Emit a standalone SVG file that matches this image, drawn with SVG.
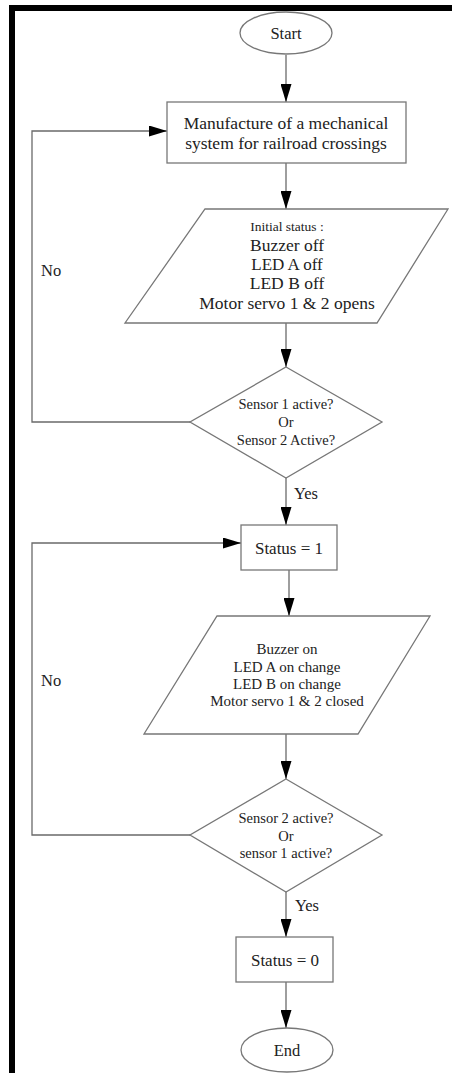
<svg xmlns="http://www.w3.org/2000/svg" width="452" height="1073" viewBox="0 0 452 1073">
<defs>
<marker id="arr" markerUnits="userSpaceOnUse" markerWidth="18" markerHeight="11" refX="18" refY="5.5" orient="auto">
<path d="M0,0 L18,5.5 L0,11 z" fill="#000"/>
</marker>
<style>
.shape{fill:#fff;stroke:#777;stroke-width:1.3}
.conn{fill:none;stroke:#6a6a6a;stroke-width:1.3;marker-end:url(#arr)}
.t{font-family:"Liberation Serif","Times New Roman",serif;fill:#222;text-anchor:middle}
.l{font-family:"Liberation Serif","Times New Roman",serif;fill:#222;font-size:16.5px}
</style>
</defs>
<rect x="0" y="0" width="452" height="1073" fill="#fff"/>
<g id="frame">
<rect x="9" y="5" width="443" height="6" fill="#000"/>
<rect x="9" y="5" width="6" height="1068" fill="#000"/>
</g>
<g id="connectors">
<path class="conn" d="M286,55 V102"/>
<path class="conn" d="M286,163 V209"/>
<path class="conn" d="M286,323 V367"/>
<path class="conn" d="M190,422 H32 V131 H167"/>
<path class="conn" d="M286,478 V525"/>
<path class="conn" d="M289,570 V616"/>
<path class="conn" d="M286,734 V779"/>
<path class="conn" d="M190,835 H32 V543 H241"/>
<path class="conn" d="M286,892 V937"/>
<path class="conn" d="M286,982 V1028"/>
<text class="l" x="41" y="276">No</text>
<text class="l" x="41" y="686">No</text>
<text class="l" x="294" y="499">Yes</text>
<text class="l" x="295" y="911">Yes</text>
</g>
<g id="start">
<ellipse class="shape" cx="286" cy="33" rx="46" ry="21"/>
<text class="t" x="286" y="39" font-size="16.5">Start</text>
</g>
<g id="manufacture">
<rect class="shape" x="167" y="102" width="239" height="61"/>
<text class="t" x="286" y="129" font-size="17.5">Manufacture of a mechanical</text>
<text class="t" x="286" y="149" font-size="17.5">system for railroad crossings</text>
</g>
<g id="initial">
<polygon class="shape" points="205,209 448,209 377,323 125,323"/>
<text class="t" x="287" y="231" font-size="13.5">Initial status :</text>
<text class="t" x="287" y="251" font-size="17.5">Buzzer off</text>
<text class="t" x="287" y="270" font-size="17">LED A off</text>
<text class="t" x="287" y="289" font-size="17.5">LED B off</text>
<text class="t" x="287" y="309" font-size="17.5">Motor servo 1 &amp; 2 opens</text>
</g>
<g id="decision1">
<polygon class="shape" points="286,367 382,422 286,478 190,422"/>
<text class="t" x="286" y="409" font-size="14.5">Sensor 1 active?</text>
<text class="t" x="286" y="427" font-size="14.5">Or</text>
<text class="t" x="286" y="445" font-size="14.5">Sensor 2 Active?</text>
</g>
<g id="status1">
<rect class="shape" x="241" y="525" width="96" height="45"/>
<text class="t" x="289" y="554" font-size="17">Status = 1</text>
</g>
<g id="output">
<polygon class="shape" points="217,616 430,616 358,734 144,734"/>
<text class="t" x="287" y="654" font-size="15">Buzzer on</text>
<text class="t" x="287" y="672" font-size="15">LED A on change</text>
<text class="t" x="287" y="689" font-size="15">LED B on change</text>
<text class="t" x="287" y="706" font-size="15">Motor servo 1 &amp; 2 closed</text>
</g>
<g id="decision2">
<polygon class="shape" points="286,779 382,835 286,892 190,835"/>
<text class="t" x="286" y="823" font-size="14.5">Sensor 2 active?</text>
<text class="t" x="286" y="841" font-size="14.5">Or</text>
<text class="t" x="286" y="858" font-size="14.5">sensor 1 active?</text>
</g>
<g id="status0">
<rect class="shape" x="236" y="937" width="97" height="45"/>
<text class="t" x="285" y="966" font-size="17">Status = 0</text>
</g>
<g id="end">
<ellipse class="shape" cx="287" cy="1050" rx="46" ry="22"/>
<text class="t" x="287" y="1056" font-size="16.5">End</text>
</g>
</svg>
